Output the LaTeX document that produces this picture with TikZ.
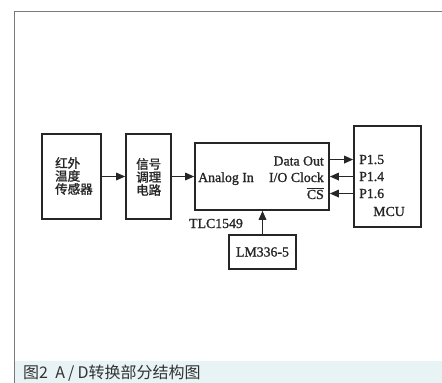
\documentclass[tikz,border=0pt]{standalone}
\usepackage{fontspec}
\setmainfont[FakeBold=1.2]{Liberation Serif}
\newfontfamily\cjk[FakeBold=1.6]{Noto Sans CJK SC}
\newfontfamily\capfont{Noto Sans CJK SC}
\usetikzlibrary{arrows.meta}
\definecolor{capbg}{HTML}{E7F3F5}
\definecolor{framec}{HTML}{7A7A7A}
\definecolor{capc}{HTML}{333333}
\begin{document}
\begin{tikzpicture}[x=1pt,y=-1pt,
  blk/.style={draw=black!85, line width=1.6pt, inner sep=0pt},
  arr/.style={line width=1.6pt, draw=black!85, -{Triangle[length=9pt,width=7.5pt]}},
  lbl/.style={font=\fontsize{13.8}{14}\selectfont, inner sep=0pt, text=black!85},
  zh/.style={font=\cjk\fontsize{12.5}{13}\selectfont, inner sep=0pt, align=left, text=black!85},
]
\useasboundingbox (0,0) rectangle (442,383);
\fill[white] (0,0) rectangle (442,383);
\fill[capbg] (14,361) rectangle (442,383);
\draw[framec, line width=0.8pt] (14,383) -- (14,11) -- (442,11);

% blocks
\node[blk, minimum width=59pt, minimum height=85pt] (s) at (71.5,176.5) {};
\node[blk, minimum width=45pt, minimum height=85pt] (t) at (148.5,176.5) {};
\node[blk, minimum width=134pt, minimum height=67pt] (c) at (262,176.5) {};
\node[blk, minimum width=67pt, minimum height=101pt] (m) at (387.5,176.5) {};
\node[blk, lbl, minimum width=67pt, minimum height=34pt] (lm) at (262.5,252) {LM336-5};

% block texts
\node[zh, anchor=west] (st) at (55,176) {红外\\温度\\传感器};
\node[zh, anchor=west] (tt) at (136,177) {信号\\调理\\电路};
\node[lbl, anchor=base west] (ain) at (198,182) {Analog In};
\node[lbl, anchor=base east] (dout) at (324,165.5) {Data Out};
\node[lbl, anchor=base east] (ioc) at (324,182) {I/O Clock};
\node[lbl, anchor=base east] (cs) at (324,199) {$\overline{\mbox{CS}}$};
\node[lbl, anchor=base west] (p15) at (359,164) {P1.5};
\node[lbl, anchor=base west] (p14) at (359,181) {P1.4};
\node[lbl, anchor=base west] (p16) at (359,198) {P1.6};
\node[lbl, anchor=base] (mcu) at (389,216) {MCU};
\node[lbl, anchor=base west] (tlc) at (189,228) {TLC1549};

% connectors
\draw[arr] (s.east) -- (t.west);
\draw[arr] (t.east) -- (c.west);
\draw[arr] (c.east |- p15) -- (m.west |- p15);
\draw[arr] (m.west |- p14) -- (c.east |- p14);
\draw[arr] (m.west |- p16) -- (c.east |- p16);
\draw[arr] (lm.north) -- (c.south -| lm.north);

% caption
\node[font=\capfont\fontsize{16}{16}\selectfont, text=capc, anchor=base west, inner sep=0pt] (cap) at (23,378) {图2\hspace{0.45em}A\hspace{0.2em}/\hspace{0.2em}D转换部分结构图};
\end{tikzpicture}
\end{document}
